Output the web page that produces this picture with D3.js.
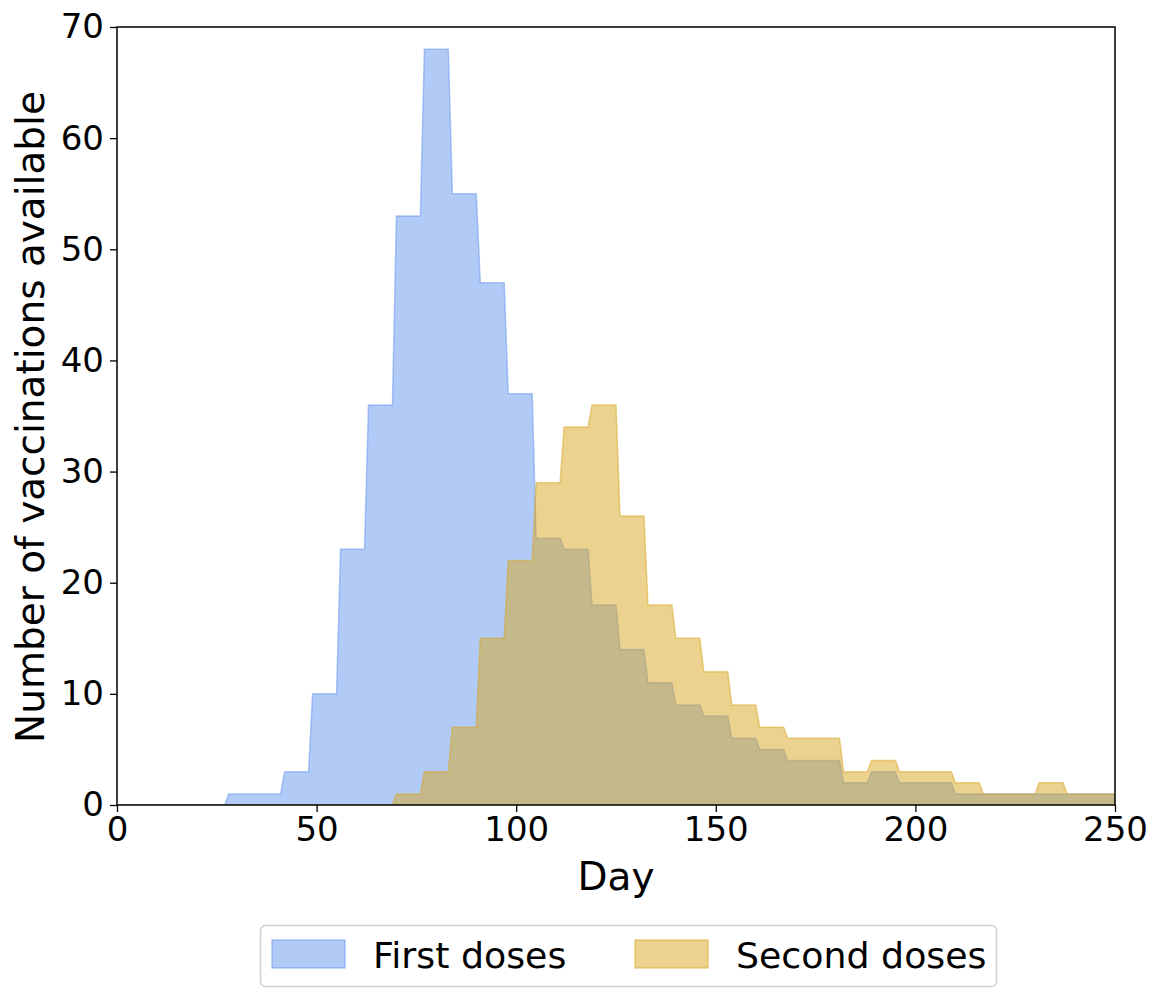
<!DOCTYPE html>
<html>
<head>
<meta charset="utf-8">
<script src="https://cdn.jsdelivr.net/npm/d3@7"></script>
<style>
  html, body { margin: 0; padding: 0; background: #ffffff; }
  svg { display: block; }
  text { font-family: "DejaVu Sans", sans-serif; fill: #000; }
</style>
</head>
<body>
<svg id="chart" width="1163" height="1001"></svg>
<script>
// Week start days (each value holds for 7 days)
const weekStarts = [0,7,14,21,28,35,42,49,56,63,70,77,84,91,98,105,112,119,126,133,140,147,154,161,168,175,182,189,196,203,210,217,224,231,238,245];
const firstDoses = [0,0,0,0,1,1,3,10,23,36,53,68,55,47,37,24,23,18,14,11,9,8,6,5,4,4,2,3,2,2,1,1,1,1,1,1];
const secondDoses = [0,0,0,0,0,0,0,0,0,0,1,3,7,15,22,29,34,36,26,18,15,12,9,7,6,6,3,4,3,3,2,1,1,2,1,1];
const xTicks = [0,50,100,150,200,250];
const yTicks = [0,10,20,30,40,50,60,70];
const seriesNames = ["First doses", "Second doses"];
const seriesColors = ["#6495ED", "#DAA520"];

(function () {
const svg = d3.select("#chart");
const pL = 117, pR = 1115, pT = 27, pB = 805;
const x = d3.scaleLinear().domain([0, 250]).range([pL, pR]);
const y = d3.scaleLinear().domain([0, 70]).range([pB, pT]);

svg.append("defs").append("clipPath").attr("id", "clip")
  .append("rect").attr("x", pL).attr("y", pT).attr("width", pR - pL).attr("height", pB - pT);

function dailyPoints(vals) {
  const pts = [];
  vals.forEach((v, i) => {
    pts.push([weekStarts[i], v]);
    pts.push([weekStarts[i] + 6, v]);
  });
  pts.push([weekStarts[weekStarts.length - 1] + 7, vals[vals.length - 1]]);
  return pts;
}

const area = d3.area().x(d => x(d[0])).y0(y(0)).y1(d => y(d[1]));
const g = svg.append("g").attr("clip-path", "url(#clip)");
[firstDoses, secondDoses].forEach((vals, i) => {
  const pts = dailyPoints(vals);
  g.append("path")
    .attr("d", area(pts))
    .attr("fill", seriesColors[i]).attr("fill-opacity", 0.5)
    .attr("stroke", seriesColors[i]).attr("stroke-opacity", 0.5)
    .attr("stroke-width", 1.5).attr("stroke-linejoin", "miter");
});

const tickFont = 34;
const xAxis = d3.axisBottom(x).tickValues(xTicks).tickSize(7).tickPadding(5).tickFormat(d3.format("d"));
const yAxis = d3.axisLeft(y).tickValues(yTicks).tickSize(7).tickPadding(6).tickFormat(d3.format("d"));
const gx = svg.append("g").attr("transform", `translate(0,${pB})`).call(xAxis);
const gy = svg.append("g").attr("transform", `translate(${pL},0)`).call(yAxis);
[gx, gy].forEach(ga => {
  ga.select(".domain").remove();
  ga.selectAll(".tick line").attr("stroke", "#000").attr("stroke-width", 1.3);
  ga.selectAll(".tick text").attr("font-size", tickFont).attr("font-family", "DejaVu Sans").attr("fill", "#000");
});

svg.append("rect").attr("x", pL).attr("y", pT).attr("width", pR - pL).attr("height", pB - pT)
  .attr("fill", "none").attr("stroke", "#000").attr("stroke-width", 1.5);

svg.append("text").attr("x", (pL + pR) / 2).attr("y", 890).attr("text-anchor", "middle")
  .attr("font-size", 39).text("Day");
svg.append("text").attr("transform", `translate(44,${(pT + pB) / 2 + 1}) rotate(-90)`).attr("text-anchor", "middle")
  .attr("font-size", 39).text("Number of vaccinations available");

const lg = svg.append("g");
lg.append("rect").attr("x", 260.5).attr("y", 925.5).attr("width", 736).attr("height", 61).attr("rx", 5)
  .attr("fill", "#fff").attr("stroke", "#d0d0d0").attr("stroke-width", 1.5);
const legX = [272, 635];
seriesNames.forEach((name, i) => {
  lg.append("rect").attr("x", legX[i]).attr("y", 940).attr("width", 73).attr("height", 28)
    .attr("fill", seriesColors[i]).attr("fill-opacity", 0.5)
    .attr("stroke", seriesColors[i]).attr("stroke-opacity", 0.5).attr("stroke-width", 1.5);
  lg.append("text").attr("x", legX[i] + 101).attr("y", 968).attr("font-size", 36.3).text(name);
});
})();
</script>
</body>
</html>
